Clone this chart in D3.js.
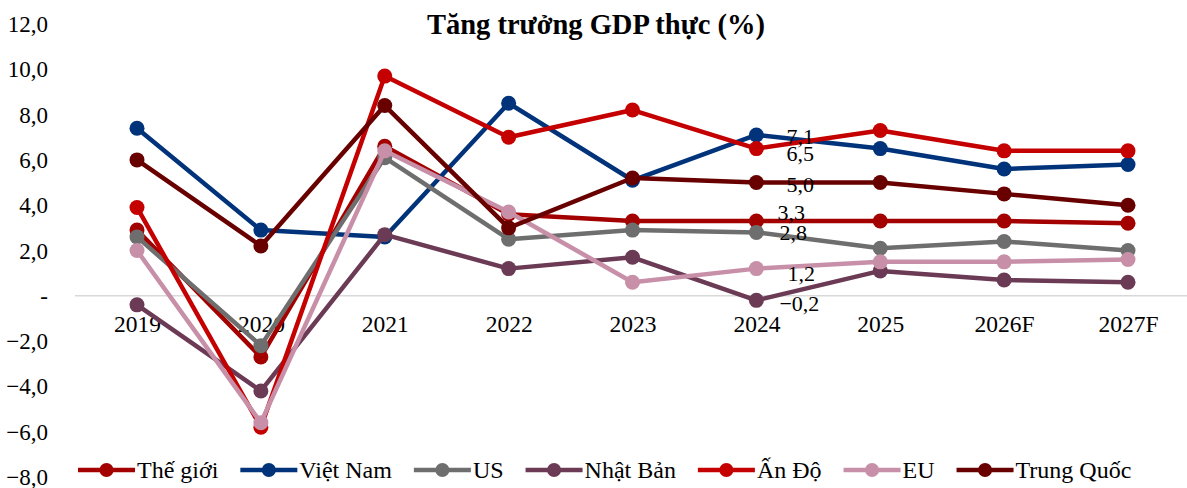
<!DOCTYPE html>
<html>
<head>
<meta charset="utf-8">
<script src="https://cdn.jsdelivr.net/npm/d3@7"></script>
<style>
  html, body { margin: 0; padding: 0; background: #fff; }
  svg { display: block; font-family: "Liberation Serif", "Times New Roman", serif; }
</style>
</head>
<body>
<svg id="chart" width="1187" height="488"></svg>
<script>
const years = ["2019", "2020", "2021", "2022", "2023", "2024", "2025", "2026F", "2027F"];
const seriesNames = ["Thế giới", "Việt Nam", "US", "Nhật Bản", "Ấn Độ", "EU", "Trung Quốc"];
const theGioi   = [2.9, -2.7, 6.6, 3.6, 3.3, 3.3, 3.3, 3.3, 3.2];
const vietNam   = [7.4, 2.9, 2.6, 8.5, 5.1, 7.1, 6.5, 5.6, 5.8];
const us        = [2.6, -2.2, 6.1, 2.5, 2.9, 2.8, 2.1, 2.4, 2.0];
const nhatBan   = [-0.4, -4.2, 2.7, 1.2, 1.7, -0.2, 1.1, 0.7, 0.6];
const anDo      = [3.9, -5.8, 9.7, 7.0, 8.2, 6.5, 7.3, 6.4, 6.4];
const eu        = [2.0, -5.6, 6.4, 3.7, 0.6, 1.2, 1.5, 1.5, 1.6];
const trungQuoc = [6.0, 2.2, 8.4, 3.0, 5.2, 5.0, 5.0, 4.5, 4.0];
const yTicks = [-8, -6, -4, -2, 0, 2, 4, 6, 8, 10, 12];
const labelYear = "2024";

// styling (not data)
const colors = ["#A30000", "#00337A", "#6E6E6E", "#6B3A55", "#C40000", "#C890A8", "#680000"];
const labelNudge = [[21, -9], [30, 1], [23, 0], [23, 3], [30, 5], [31, 5], [30, 2]];

const seriesValues = [theGioi, vietNam, us, nhatBan, anDo, eu, trungQuoc];
const series = seriesNames.map((name, i) => ({
  name, color: colors[i], nudge: labelNudge[i],
  values: years.map((y, j) => ({ year: y, value: seriesValues[i][j] }))
}));

const svg = d3.select("#chart");
const x = d3.scalePoint().domain(years).range([137, 1128]);
const y = d3.scaleLinear().domain([-8, 12]).range([477, 24]);

// title
svg.append("text")
  .attr("x", 596).attr("y", 34)
  .attr("text-anchor", "middle")
  .attr("font-size", 28.5).attr("font-weight", "bold")
  .attr("fill", "#000")
  .text("Tăng trưởng GDP thực (%)");

// zero line
svg.append("line")
  .attr("x1", 75).attr("x2", 1187)
  .attr("y1", y(0)).attr("y2", y(0))
  .attr("stroke", "#D9D9D9").attr("stroke-width", 1.5);

// y axis labels
const fmt = v => v === 0 ? "-" : d3.format(".1f")(v).replace(".", ",");
const yAxis = d3.axisLeft(y).tickValues(yTicks).tickFormat(fmt).tickSize(0).tickPadding(0);
const yg = svg.append("g").attr("transform", "translate(48,0)").call(yAxis);
yg.select(".domain").remove();
yg.selectAll("text").attr("font-size", 23).attr("font-family", "Liberation Serif, serif").attr("fill", "#000").attr("dy", "0.33em");

// x axis labels (below zero line)
const xAxis = d3.axisBottom(x).tickSize(0).tickPadding(0);
const xg = svg.append("g").attr("transform", `translate(0,${y(0)})`).call(xAxis);
xg.select(".domain").remove();
xg.selectAll("text").attr("font-size", 23.5).attr("font-family", "Liberation Serif, serif").attr("fill", "#000").attr("dy", "1.53em");

// lines
const line = d3.line().x(d => x(d.year)).y(d => y(d.value));
const sg = svg.selectAll(".series").data(series).enter().append("g").attr("class", "series");
sg.append("path")
  .attr("d", d => line(d.values))
  .attr("fill", "none")
  .attr("stroke", d => d.color)
  .attr("stroke-width", 4.5)
  .attr("stroke-linejoin", "round");
sg.selectAll("circle").data(d => d.values.map(v => ({ ...v, color: d.color }))).enter()
  .append("circle")
  .attr("cx", d => x(d.year)).attr("cy", d => y(d.value))
  .attr("r", 7.5).attr("fill", d => d.color);

// data labels for 2024
series.forEach(s => {
  const p = s.values.find(v => v.year === labelYear);
  svg.append("text")
    .attr("x", x(p.year) + s.nudge[0])
    .attr("y", y(p.value) + s.nudge[1])
    .attr("dy", "0.35em")
    .attr("font-size", 22).attr("fill", "#000")
    .text(d3.format(".1f")(p.value).replace(".", ","));
});

// legend
const lg = svg.append("g").attr("transform", "translate(78,470)");
let lx = 0;
series.forEach(s => {
  const g = lg.append("g").attr("transform", `translate(${lx},0)`);
  g.append("line").attr("x1", 0).attr("x2", 57).attr("y1", 0).attr("y2", 0)
    .attr("stroke", s.color).attr("stroke-width", 4.5);
  g.append("circle").attr("cx", 28.5).attr("cy", 0).attr("r", 7).attr("fill", s.color);
  const t = g.append("text").attr("x", 59).attr("y", 0).attr("dy", "0.33em")
    .attr("font-size", 24).attr("fill", "#000").text(s.name);
  lx += 59 + t.node().getComputedTextLength() + 22;
});
</script>
</body>
</html>
